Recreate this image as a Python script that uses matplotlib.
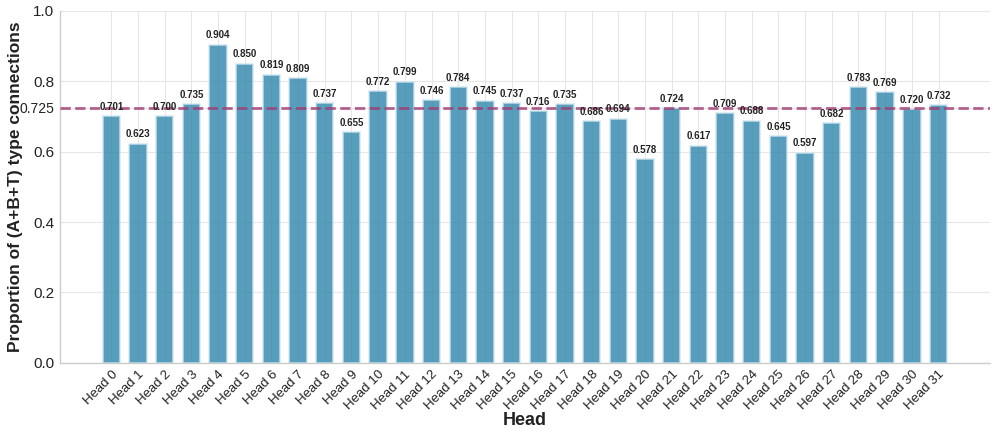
import matplotlib
matplotlib.use("Agg")
import matplotlib.pyplot as plt
import numpy as np

# proportion of (A+B+T) connections for each head
heads = [f"Head {i}" for i in range(32)]
values = [0.701, 0.623, 0.700, 0.735, 0.904, 0.850, 0.819, 0.809,
          0.737, 0.655, 0.772, 0.799, 0.746, 0.784, 0.745, 0.737,
          0.716, 0.735, 0.686, 0.694, 0.578, 0.724, 0.617, 0.709,
          0.688, 0.645, 0.597, 0.682, 0.783, 0.769, 0.720, 0.732]
mean_line = 0.725
yticks = [0.0, 0.2, 0.4, 0.6, 0.725, 0.8, 1.0]
ytick_labels = ["0.0", "0.2", "0.4", "0.6", "0.725", "0.8", "1.0"]

plt.rcParams['font.family'] = ['Liberation Sans', 'DejaVu Sans']

fig = plt.figure(figsize=(9.97, 4.33), dpi=100)
ax = fig.add_axes([0.060, 0.162, 0.933, 0.813])

x = np.arange(len(heads))
ax.bar(x, values, width=0.65, color='#2E86AB', alpha=0.8,
       edgecolor='#cfe6f0', linewidth=1.2, zorder=3)
ax.axhline(mean_line, color='#A23B72', linestyle='--', linewidth=2,
           alpha=0.8, zorder=4)

for xi, v in zip(x, values):
    ax.text(xi, v + 0.012, f"{v:.3f}", ha='center', va='bottom',
            fontsize=7, fontweight='bold', color='#222222', zorder=5)

ax.set_xlim(-1.93, 32.93)
ax.set_ylim(0, 1.0)
ax.set_xticks(x)
ax.set_xticklabels(heads, rotation=45, ha='right', rotation_mode='anchor',
                   fontsize=9.5, color='#222222')
ax.set_yticks(yticks)
ax.set_yticklabels(ytick_labels, fontsize=11, color='#222222')
ax.get_yticklabels()[4].set_fontsize(10)
ax.tick_params(axis='both', length=0, pad=4)

ax.grid(True, color='#e6e6e6', linewidth=0.8, zorder=0)
ax.set_axisbelow(True)
for side in ['top', 'right']:
    ax.spines[side].set_visible(False)
for side in ['left', 'bottom']:
    ax.spines[side].set_color('#cccccc')
    ax.spines[side].set_linewidth(1.0)

ax.set_xlabel("Head", fontsize=13, fontweight='bold', color='#222222', labelpad=0)
ax.set_ylabel("Proportion of (A+B+T) type connections", fontsize=12.5,
              fontweight='bold', color='#222222')
ax.yaxis.set_label_coords(-0.040, 0.5)

fig.savefig("out.png", dpi=100)
